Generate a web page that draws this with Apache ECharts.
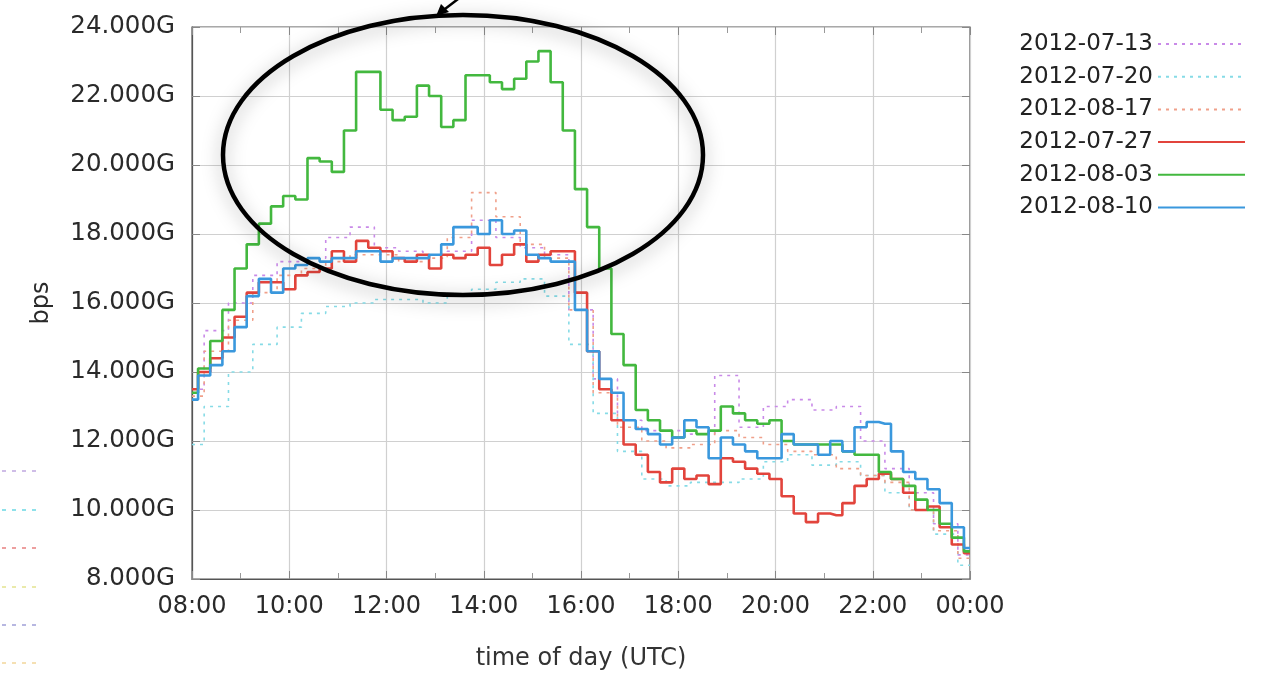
<!DOCTYPE html>
<html>
<head>
<meta charset="utf-8">
<script src="https://cdn.jsdelivr.net/npm/echarts@6/dist/echarts.min.js"></script>
<style>
html,body{margin:0;padding:0;background:#fff;}
#chart{width:1267px;height:676px;}
</style>
</head>
<body>
<div id="chart"></div>
<script>
// time of day in hours (24 = 00:00 next day)
const t15 = [8,8.25,8.5,8.75,9,9.25,9.5,9.75,10,10.25,10.5,10.75,11,11.25,11.5,11.75,12,12.25,12.5,12.75,13,13.25,13.5,13.75,14,14.25,14.5,14.75,15,15.25,15.5,15.75,16,16.25,16.5,16.75,17,17.25,17.5,17.75,18,18.25,18.5,18.75,19,19.25,19.5,19.75,20,20.25,20.5,20.75,21,21.25,21.5,21.75,22,22.25,22.5,22.75,23,23.25,23.5,23.75,24];
const t30 = [8,8.5,9,9.5,10,10.5,11,11.5,12,12.5,13,13.5,14,14.5,15,15.5,16,16.5,17,17.5,18,18.5,19,19.5,20,20.5,21,21.5,22,22.5,23,23.5,24];

// values in Gbps
const d0713 = [13.5,15.2,16.0,16.8,17.2,17.3,17.9,18.2,17.6,17.5,17.4,17.5,18.4,17.9,17.6,17.4,15.8,13.8,12.6,12.3,12.3,12.2,13.9,12.4,13.0,13.2,12.9,13.0,12.0,11.2,10.5,9.6,8.7];
const d0720 = [11.9,13.0,14.0,14.8,15.3,15.7,15.9,16.0,16.1,16.1,16.0,16.2,16.4,16.6,16.7,16.2,14.8,12.8,11.7,10.9,10.7,10.8,10.8,10.9,11.4,11.6,11.3,11.4,11.0,10.5,10.0,9.3,8.4];
const d0817 = [13.3,14.6,15.5,16.3,16.8,17.0,17.2,17.4,17.4,17.2,17.3,17.9,19.2,18.5,17.7,17.3,15.8,13.4,12.4,12.0,11.8,11.9,12.3,12.1,11.9,11.7,11.6,11.2,11.0,10.8,10.0,9.4,8.6];
const d0727 = [13.5,14.0,14.4,15.0,15.6,16.3,16.6,16.6,16.4,16.8,16.9,17.0,17.5,17.2,17.8,17.6,17.5,17.3,17.2,17.4,17.0,17.4,17.3,17.4,17.6,17.1,17.4,17.7,17.2,17.4,17.5,17.5,16.3,14.6,13.5,12.6,11.9,11.6,11.1,10.8,11.2,10.9,11.0,10.75,11.5,11.4,11.2,11.05,10.9,10.4,9.9,9.65,9.9,9.85,10.2,10.7,10.9,11.05,10.9,10.5,10.0,10.1,9.5,9.0,8.75];
const d0803 = [13.4,14.1,14.9,15.8,17.0,17.7,18.3,18.8,19.1,19.0,20.2,20.1,19.8,21.0,22.7,22.7,21.6,21.3,21.4,22.3,22.0,21.1,21.3,22.6,22.6,22.4,22.2,22.5,23.0,23.3,22.4,21.0,19.3,18.2,17.0,15.1,14.2,12.9,12.6,12.3,12.1,12.3,12.2,12.3,13.0,12.8,12.6,12.5,12.6,12.0,11.9,11.9,11.9,11.9,11.7,11.6,11.6,11.1,10.9,10.7,10.3,10.0,9.6,9.2,8.8];
const d0810 = [13.2,13.9,14.2,14.6,15.3,16.2,16.7,16.3,17.0,17.1,17.3,17.2,17.3,17.3,17.5,17.5,17.2,17.3,17.3,17.3,17.4,17.7,18.2,18.2,18.0,18.4,18.0,18.1,17.4,17.3,17.2,17.2,15.8,14.6,13.8,13.4,12.6,12.35,12.2,11.9,12.1,12.6,12.4,11.5,12.1,11.9,11.7,11.5,11.5,12.2,11.9,11.9,11.6,12.0,11.7,12.4,12.55,12.5,11.7,11.1,10.9,10.6,10.2,9.5,8.9];

const seriesNames = ['2012-07-13','2012-07-20','2012-08-17','2012-07-27','2012-08-03','2012-08-10'];

function pairs(t, v){ return t.map((h,i)=>[h, v[i]]); }

const FONT = 'DejaVu Sans';
const chart = echarts.init(document.getElementById('chart'), null, {renderer:'canvas'});

function mk(name, t, v, color, dashed, width, z){
  return {
    name: name, type:'line', step:'middle', data: pairs(t, v),
    symbol:'none', showSymbol:false, z: z,
    lineStyle:{color: color, width: width, type: dashed ? [3,5] : 'solid', opacity: 1},
    itemStyle:{color: color},
    emphasis:{disabled:true}
  };
}

const stray = [
  {y:471, c:'#c0a8e0'},{y:510, c:'#6ad8e4'},{y:548, c:'#e88080'},
  {y:587, c:'#e4e490'},{y:625, c:'#a0a0d8'},{y:663, c:'#f2d69a'}
];

const graphics = [];
stray.forEach(s=>{
  graphics.push({type:'line', shape:{x1:2,y1:s.y,x2:36,y2:s.y}, style:{stroke:s.c, lineWidth:1.5, lineDash:[4,6]}, z:50});
});
// annotation ellipse
graphics.push({
  type:'ellipse', shape:{cx:463, cy:155, rx:240, ry:140},
  style:{fill:'none', stroke:'#000', lineWidth:4.5, shadowBlur:18, shadowColor:'rgba(0,0,0,0.35)', shadowOffsetY:4},
  z:100
});
// arrow at top
graphics.push({type:'line', shape:{x1:462,y1:-4,x2:441,y2:12}, style:{stroke:'#000', lineWidth:2.5}, z:101});
graphics.push({type:'polygon', shape:{points:[[436,16],[441,4],[449,12]]}, style:{fill:'#000'}, z:101});

const option = {
  backgroundColor:'#fff',
  animation:false,
  grid:{left:192, right:297, top:27, bottom:96, show:true, borderColor:'#555', borderWidth:1.2, backgroundColor:'transparent'},
  legend:{
    orient:'vertical', right:16, top:27, align:'right',
    itemWidth:87, itemHeight:24, itemGap:8.7,
    data: seriesNames,
    itemStyle:{opacity:0},
    textStyle:{fontFamily:FONT, fontSize:23, color:'#222', lineHeight:24},
    selectedMode:false
  },
  xAxis:[{
    type:'value', min:8, max:24, interval:2,
    name:'time of day (UTC)', nameLocation:'middle', nameGap:68,
    nameTextStyle:{fontFamily:FONT, fontSize:24, color:'#333'},
    axisLine:{show:true, lineStyle:{color:'#555', width:1.2}},
    axisTick:{show:true, inside:true, length:8, lineStyle:{color:'#888'}},
    minorTick:{show:true, splitNumber:2, length:6, lineStyle:{color:'#999'}},
    splitLine:{show:true, lineStyle:{color:'#d0d0d0', width:1.2}},
    axisLabel:{fontFamily:FONT, fontSize:24, color:'#2a2a2a', margin:16,
      formatter:v=>String(v%24).padStart(2,'0')+':00'}
  },{
    type:'value', min:8, max:24, interval:2, position:'top',
    axisLine:{show:false}, axisLabel:{show:false}, splitLine:{show:false},
    axisTick:{show:true, inside:true, length:8, lineStyle:{color:'#888'}},
    minorTick:{show:true, splitNumber:2, length:6, lineStyle:{color:'#999'}}
  }],
  yAxis:[{
    type:'value', min:8, max:24, interval:2,
    name:'bps', nameLocation:'middle', nameGap:138,
    nameTextStyle:{fontFamily:FONT, fontSize:24, color:'#2a2a2a'},
    axisLine:{show:true, lineStyle:{color:'#555', width:1.2}},
    axisTick:{show:true, inside:true, length:8, lineStyle:{color:'#888'}},
    splitLine:{show:true, lineStyle:{color:'#d0d0d0', width:1.2}},
    axisLabel:{fontFamily:FONT, fontSize:24.5, color:'#2a2a2a', margin:17,
      formatter:v=>v.toFixed(3)+'G'}
  },{
    type:'value', min:8, max:24, interval:2, position:'right',
    axisLine:{show:false}, axisLabel:{show:false}, splitLine:{show:false},
    axisTick:{show:true, inside:true, length:8, lineStyle:{color:'#888'}}
  }],
  series:[
    mk(seriesNames[0], t30, d0713, '#c98ae8', true, 1.6, 2),
    mk(seriesNames[1], t30, d0720, '#86dbe6', true, 1.6, 2),
    mk(seriesNames[2], t30, d0817, '#f0a08a', true, 1.6, 2),
    mk(seriesNames[3], t15, d0727, '#e2443c', false, 2.6, 3),
    mk(seriesNames[4], t15, d0803, '#43b83f', false, 2.6, 3),
    mk(seriesNames[5], t15, d0810, '#3a98dd', false, 2.6, 4)
  ],
  graphic: graphics
};
chart.setOption(option);
</script>
</body>
</html>
